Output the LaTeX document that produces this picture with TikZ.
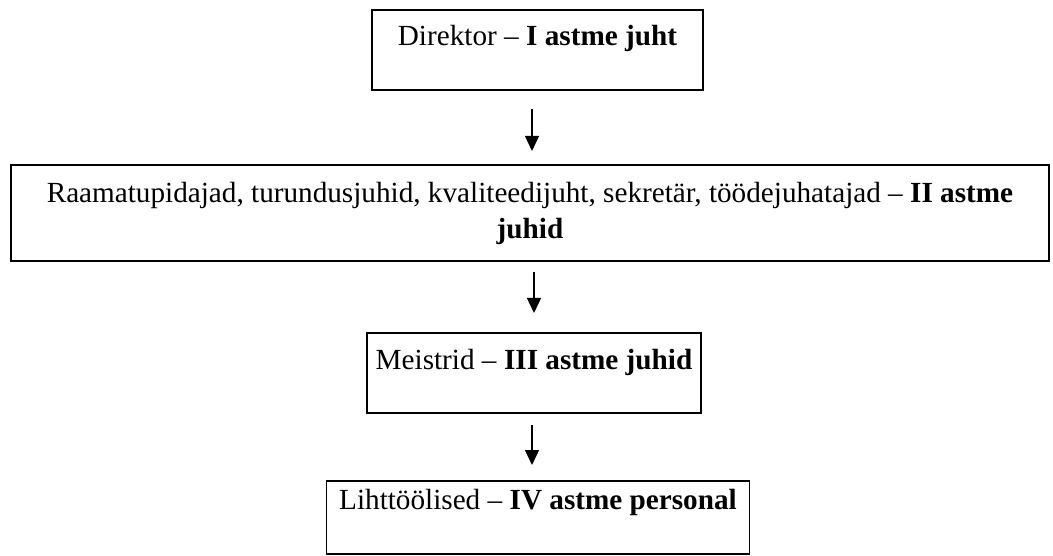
\documentclass[tikz,border=0pt]{standalone}
\usepackage{fontspec}
\setmainfont{Liberation Serif}
\usepackage{tikz}
\usetikzlibrary{arrows.meta}
\usetikzlibrary{positioning}

\begin{document}
\begin{tikzpicture}
	[x=1pt,y=-1pt,
	 every node/.style={font=\fontsize{29.2}{36}\selectfont},
	 kast/.style={draw, line width=1.8pt, inner sep=0pt, anchor=north, text height=36pt, text depth=44pt},
	 nool/.style={-{Triangle[width=14pt,length=15pt]}, line width=1.4pt}]
	\useasboundingbox (0,0) rectangle (1053,556);
	% astmed
	\node[kast, minimum width=331pt] (direktor) at (537.5,9) {Direktor -- \textbf{I astme juht}};
	\node[kast, minimum width=1038pt, align=center, text height=74pt, text depth=22pt] (tase2) at (530,164)
		{Raamatupidajad, turundusjuhid, kvaliteedijuht, sekretär, töödejuhatajad -- \textbf{II astme}\\ \textbf{juhid}};
	\node[kast, minimum width=334pt, text height=37pt, text depth=43pt] (meistrid) at (534,332) {Meistrid -- \textbf{III astme juhid}};
	\node[kast, minimum width=423pt, text height=29pt, text depth=44pt] (tootajad) at (538,480) {Lihttöölised -- \textbf{IV astme personal}};
	% nooled
	\draw[nool, shorten <=18pt, shorten >=13pt] ([xshift=-5.5pt]direktor.south) -- ([xshift=-5.5pt]direktor.south |- tase2.north);
	\draw[nool, shorten <=10pt, shorten >=19pt] (meistrid.north |- tase2.south) -- (meistrid.north);
	\draw[nool, shorten <=11pt, shorten >=15pt] ([xshift=-2pt]meistrid.south) -- ([xshift=-2pt]meistrid.south |- tootajad.north);
\end{tikzpicture}
\end{document}
